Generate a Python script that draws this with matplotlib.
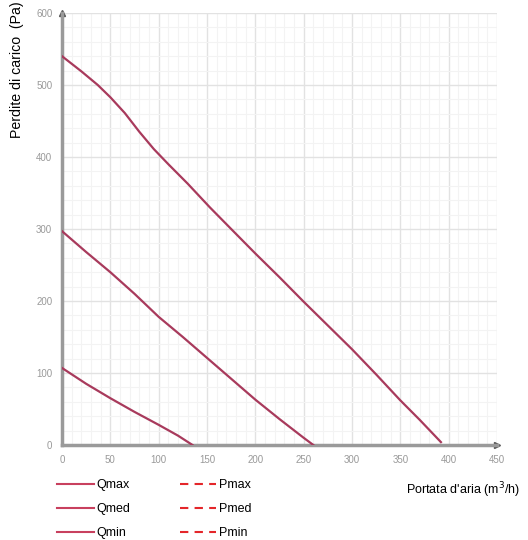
import matplotlib
matplotlib.use('Agg')
import matplotlib.pyplot as plt
from matplotlib.lines import Line2D
from matplotlib.ticker import MultipleLocator

plt.rcParams['font.family'] = ['Liberation Sans', 'DejaVu Sans']

# curves (portata m3/h, perdite Pa)
qmax_x = [0, 20, 37, 50, 65, 80, 95, 110, 130, 153, 175, 200, 225, 250, 275, 300, 325, 350, 370, 392]
qmax_y = [540, 519, 500, 483, 461, 435, 411, 390, 363, 330, 300, 266, 233, 199, 166, 133, 98, 62, 35, 4]
qmed_x = [0, 25, 50, 75, 100, 125, 150, 175, 200, 225, 250, 260]
qmed_y = [297, 268, 240, 210, 178, 150, 121, 92, 63, 36, 10, 0]
qmin_x = [0, 25, 50, 75, 100, 120, 135]
qmin_y = [107, 85, 65, 46, 28, 13, 0]

x_ticks = [0, 50, 100, 150, 200, 250, 300, 350, 400, 450]
y_ticks = [0, 100, 200, 300, 400, 500, 600]

q_labels = ['Qmax', 'Qmed', 'Qmin']
p_labels = ['Pmax', 'Pmed', 'Pmin']

curve_col = '#a83a5c'
leg_q_col = '#c8405e'
leg_p_col = '#e4262a'

fig = plt.figure(figsize=(5.28, 5.40), dpi=100)
ax = fig.add_axes([62 / 528, 1 - 445 / 540, 435 / 528, 432 / 540])

for xs, ys in [(qmax_x, qmax_y), (qmed_x, qmed_y), (qmin_x, qmin_y)]:
    ax.plot(xs, ys, color=curve_col, linewidth=1.6, zorder=3)

ax.set_xlim(0, 450)
ax.set_ylim(0, 600)
ax.set_xticks(x_ticks)
ax.set_yticks(y_ticks)
ax.xaxis.set_minor_locator(MultipleLocator(10))
ax.yaxis.set_minor_locator(MultipleLocator(20))
ax.grid(which='major', color='#e2e2e2', linewidth=1.0)
ax.grid(which='minor', color='#f3f3f3', linewidth=0.8)
ax.set_axisbelow(True)
ax.tick_params(which='both', length=0, labelsize=7, colors='#999999', pad=7)

for s in ['top', 'right']:
    ax.spines[s].set_visible(False)
for s in ['left', 'bottom']:
    ax.spines[s].set_color('#9a9a9a')
    ax.spines[s].set_linewidth(2.5)
ax.plot(1, 0, '>', color='#555555', markersize=4, transform=ax.transAxes, clip_on=False)
ax.plot(0, 1, '^', color='#555555', markersize=4, transform=ax.transAxes, clip_on=False)

fig.text(17 / 528, 1 - 1 / 540, 'Perdite di carico  (Pa)', rotation=90,
         ha='center', va='top', fontsize=10.2)
fig.text(520 / 528, 1 - 490 / 540, "Portata d'aria (m$^3$/h)", ha='right',
         va='center', fontsize=9)

handles = [Line2D([], [], color=leg_q_col, linewidth=1.5) for _ in q_labels]
handles += [Line2D([], [], color=leg_p_col, linewidth=1.5, linestyle=(0, (4, 3)))
            for _ in p_labels]
fig.legend(handles, q_labels + p_labels, ncol=2, loc='upper left',
           bbox_to_anchor=(51 / 528, 1 - 473 / 540), frameon=False,
           fontsize=9, handlelength=2.9, handletextpad=0.2,
           columnspacing=4.0, labelspacing=0.95, borderpad=0)

fig.savefig('out.png', dpi=100)
